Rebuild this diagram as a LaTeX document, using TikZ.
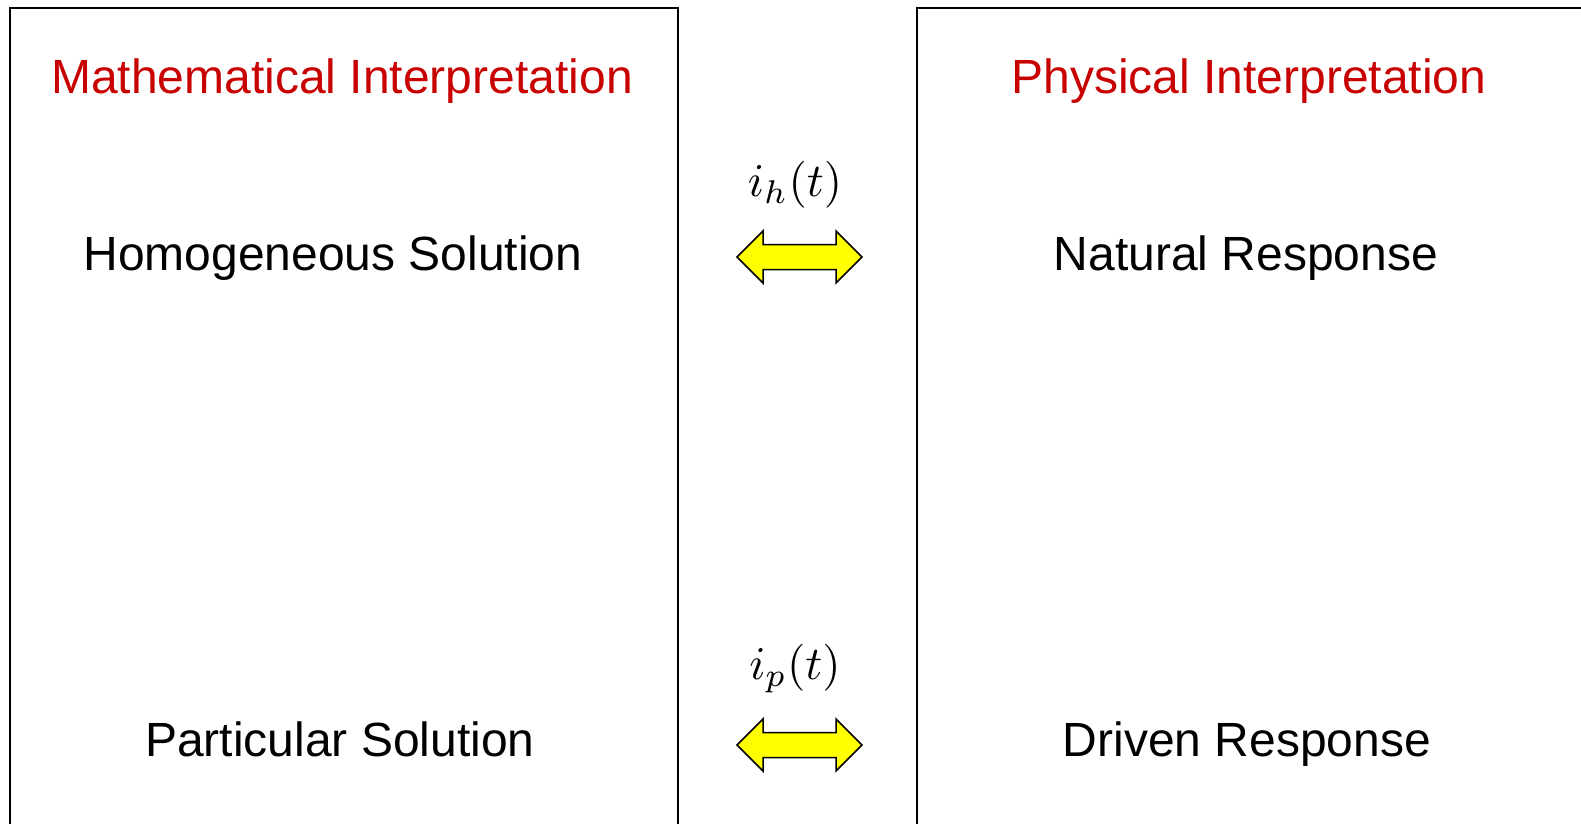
\documentclass[tikz,border=0pt]{standalone}
\usepackage{fontspec}
\setmainfont{Liberation Sans}
\usetikzlibrary{positioning}
\definecolor{titlered}{RGB}{200,0,0}
\definecolor{arrowyellow}{RGB}{255,255,0}
\newcommand{\biglabel}[1]{\scalebox{4.7}{$#1$}}

\begin{document}
\begin{tikzpicture}[
    x=1pt, y=-1pt,
    title/.style={anchor=base, text=titlered, inner sep=0pt, font=\fontsize{48}{56}\selectfont},
    term/.style={anchor=base, inner sep=0pt, font=\fontsize{48}{56}\selectfont},
    lbl/.style={anchor=base, inner sep=0pt},
    panel/.style={line width=2pt},
    dbl/.style={draw, line width=1.5pt, fill=arrowyellow, line join=miter},
]
\useasboundingbox (0,0) rectangle (1581,823);
\clip (0,0) rectangle (1581,823);

% Two panels (open at the bottom, right one runs off the page)
\draw[panel] (10,840) -- (10,8) -- (678,8) -- (678,840);
\draw[panel] (917,840) -- (917,8) -- (1600,8);

% Panel titles
\node[title] (mathT) at (342,93) {Mathematical Interpretation};
\node[title] (physT) at (1249,93) {Physical Interpretation};

% Terms
\node[term] (homog) at (333,270) {Homogeneous Solution};
\node[term] (natur) at (1246,270) {Natural Response};
\node[term] (partic) at (340,756) {Particular Solution};
\node[term] (driven) at (1247,756) {Driven Response};

% Labels over the arrows
\node[lbl] (ih) at (795,196) {\biglabel{i_h(t)}};
\node[lbl] (ip) at (795,679) {\biglabel{i_p(t)}};

% Yellow block arrows
\foreach \cy in {257,745} {
    \draw[dbl, shift={(799.5,\cy)}]
        (-62.5,0) -- (-36.5,-26) -- (-36.5,-12.5) -- (36.5,-12.5) -- (36.5,-26)
        -- (62.5,0) -- (36.5,26) -- (36.5,12.5) -- (-36.5,12.5) -- (-36.5,26) -- cycle;
}
\end{tikzpicture}
\end{document}
